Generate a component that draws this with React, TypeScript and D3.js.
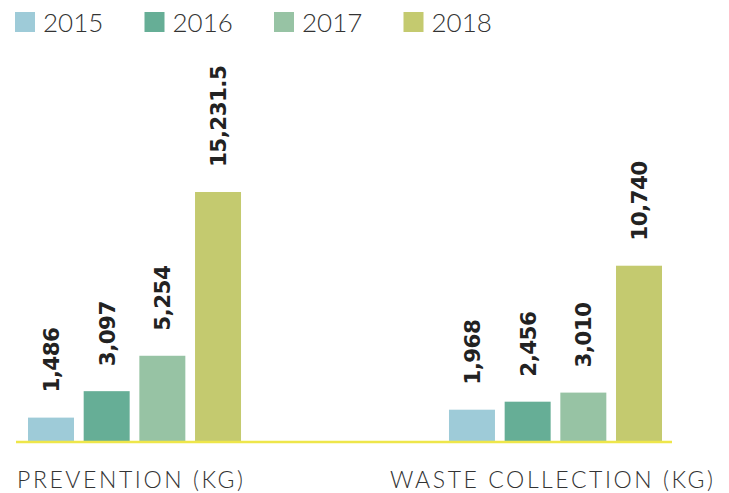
import React from "react";
import * as d3 from "d3";

const categories = ["PREVENTION (KG)", "WASTE COLLECTION (KG)"];
const years = ["2015", "2016", "2017", "2018"];
const prevention = [1486, 3097, 5254, 15231.5];
const wasteCollection = [1968, 2456, 3010, 10740];
const valueLabels = [
  ["1,486", "3,097", "5,254", "15,231.5"],
  ["1,968", "2,456", "3,010", "10,740"],
];
const colors = ["#9ecbd8", "#66ae96", "#97c3a4", "#c4ca6f"];

const W = 729;
const H = 493;

export default function App() {
  const series = [prevention, wasteCollection];
  const baseline = 442;
  const x0 = d3.scaleBand<string>().domain(categories).range([28, 662]).paddingInner(0.494).paddingOuter(0);
  const x1 = d3.scaleBand<string>().domain(years).range([0, x0.bandwidth()]).paddingInner(0.174);
  const y = d3.scaleLinear().domain([0, 15231.5]).range([baseline, 192]);
  const legendX = d3.scaleBand<string>().domain(years).range([15, 533]);
  const labelFont = "'DejaVu Sans', sans-serif";
  const lightFont = "Lato, 'Open Sans', sans-serif";

  return (
    <svg width={W} height={H} style={{ position: "absolute", left: 0, top: 0, background: "#fff" }}>
      {years.map((yr, i) => (
        <g key={yr} transform={`translate(${legendX(yr)},0)`}>
          <rect x={0} y={12} width={20} height={20} fill={colors[i]} />
          <text x={28} y={32} fontFamily={lightFont} fontWeight={300} fontSize={26} fill="#333">
            {yr}
          </text>
        </g>
      ))}
      {categories.map((cat, ci) => (
        <g key={cat} transform={`translate(${x0(cat)},0)`}>
          {series[ci].map((v, i) => {
            const bx = x1(years[i])!;
            const top = y(v);
            return (
              <g key={i}>
                <rect x={bx} y={top} width={x1.bandwidth()} height={baseline - top} fill={colors[i]} />
                <text
                  transform={`translate(${bx + x1.bandwidth() / 2 + 8},${top - 25}) rotate(-90)`}
                  fontFamily={labelFont}
                  fontWeight="bold"
                  fontSize={21.5}
                  letterSpacing={-0.6}
                  fill="#222"
                >
                  {valueLabels[ci][i]}
                </text>
              </g>
            );
          })}
        </g>
      ))}
      <line x1={16} x2={672} y1={baseline} y2={baseline} stroke="#eee64a" strokeWidth={2.5} />
      <text x={17} y={488} fontFamily={lightFont} fontWeight={300} fontSize={23} fill="#333" textLength={226} lengthAdjust="spacing">
        {categories[0]}
      </text>
      <text x={390} y={488} fontFamily={lightFont} fontWeight={300} fontSize={23} fill="#333" textLength={323} lengthAdjust="spacing">
        {categories[1]}
      </text>
    </svg>
  );
}
